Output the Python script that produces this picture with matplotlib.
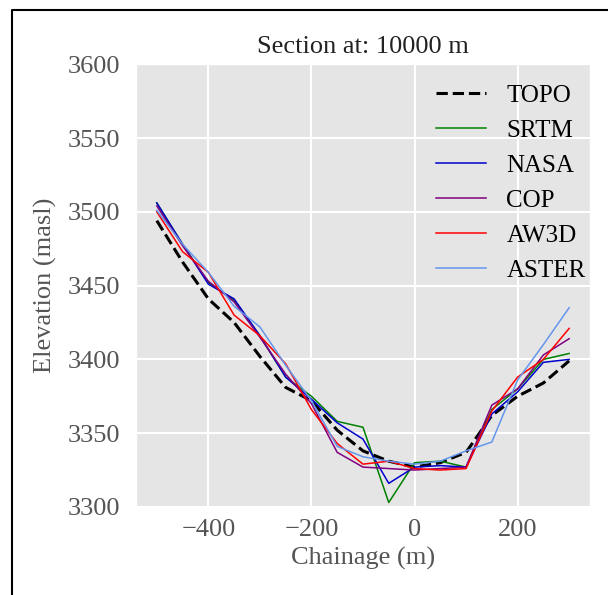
import matplotlib
matplotlib.use("Agg")
import matplotlib.pyplot as plt
from matplotlib.lines import Line2D

plt.style.use("ggplot")
plt.rcParams["font.family"] = ["Liberation Serif", "DejaVu Serif"]
plt.rcParams["grid.linewidth"] = 1.5

# chainage along the section (m)
chainage = [-500, -450, -400, -350, -300, -250, -200, -150, -100, -50,
            0, 50, 100, 150, 200, 250, 300]

# elevations (masl)
topo = [3494, 3466, 3441, 3425, 3402, 3381, 3372, 3352, 3338, 3331,
        3327, 3330, 3337, 3362, 3375, 3384, 3399]
srtm = [3506, 3478, 3452, 3440, 3416, 3388, 3375, 3358, 3354, 3303,
        3330, 3331, 3327, 3366, 3380, 3400, 3404]
nasa = [3506, 3478, 3451, 3441, 3416, 3388, 3373, 3357, 3346, 3316,
        3327, 3328, 3327, 3363, 3378, 3398, 3400]
cop = [3504, 3477, 3453, 3439, 3415, 3390, 3370, 3337, 3327, 3326,
       3325, 3326, 3327, 3369, 3380, 3403, 3414]
aw3d = [3500, 3473, 3459, 3430, 3416, 3397, 3366, 3343, 3329, 3331,
        3326, 3325, 3326, 3365, 3388, 3400, 3421]
aster = [3501, 3478, 3459, 3436, 3422, 3396, 3372, 3341, 3334, 3331,
         3329, 3331, 3338, 3344, 3386, 3410, 3435]

fig = plt.figure(figsize=(6.08, 5.95), dpi=100)
fig.patch.set_facecolor("white")
ax = fig.add_axes([0.224, 0.148, 0.746, 0.744])

ax.plot(chainage, topo, color="black", linestyle="--", linewidth=2.2, label="TOPO")
ax.plot(chainage, srtm, color="green", linewidth=1.1, label="SRTM")
ax.plot(chainage, nasa, color="mediumblue", linewidth=1.1, label="NASA")
ax.plot(chainage, cop, color="purple", linewidth=1.1, label="COP")
ax.plot(chainage, aw3d, color="red", linewidth=1.1, label="AW3D")
ax.plot(chainage, aster, color="cornflowerblue", linewidth=1.1, label="ASTER")

ax.set_ylim(3300, 3600)
ax.set_xticks([-400, -200, 0, 200])
ax.tick_params(axis="both", length=0, labelsize=19, colors="#555555")
ax.tick_params(axis="x", pad=9)
ax.tick_params(axis="y", pad=11.5)
ax.set_xlabel("Chainage (m)", fontsize=19, color="#555555", labelpad=4)
ax.set_ylabel("Elevation (masl)", fontsize=19, color="#555555", labelpad=8)
ax.set_title("Section at: 10000 m", fontsize=19, color="#222222", pad=8)

ax.legend(loc="upper right", frameon=False, fontsize=18,
          bbox_to_anchor=(1.024, 0.989), borderaxespad=0.2)

# partial frame of the original (cropped) figure border
x0 = 11.5 / 608
y0 = 1 - 9.5 / 595
fig.add_artist(Line2D([x0, x0, 1.0], [0.0, y0, y0], transform=fig.transFigure,
                      color="black", linewidth=1.5))

fig.savefig("out.png", dpi=100)
